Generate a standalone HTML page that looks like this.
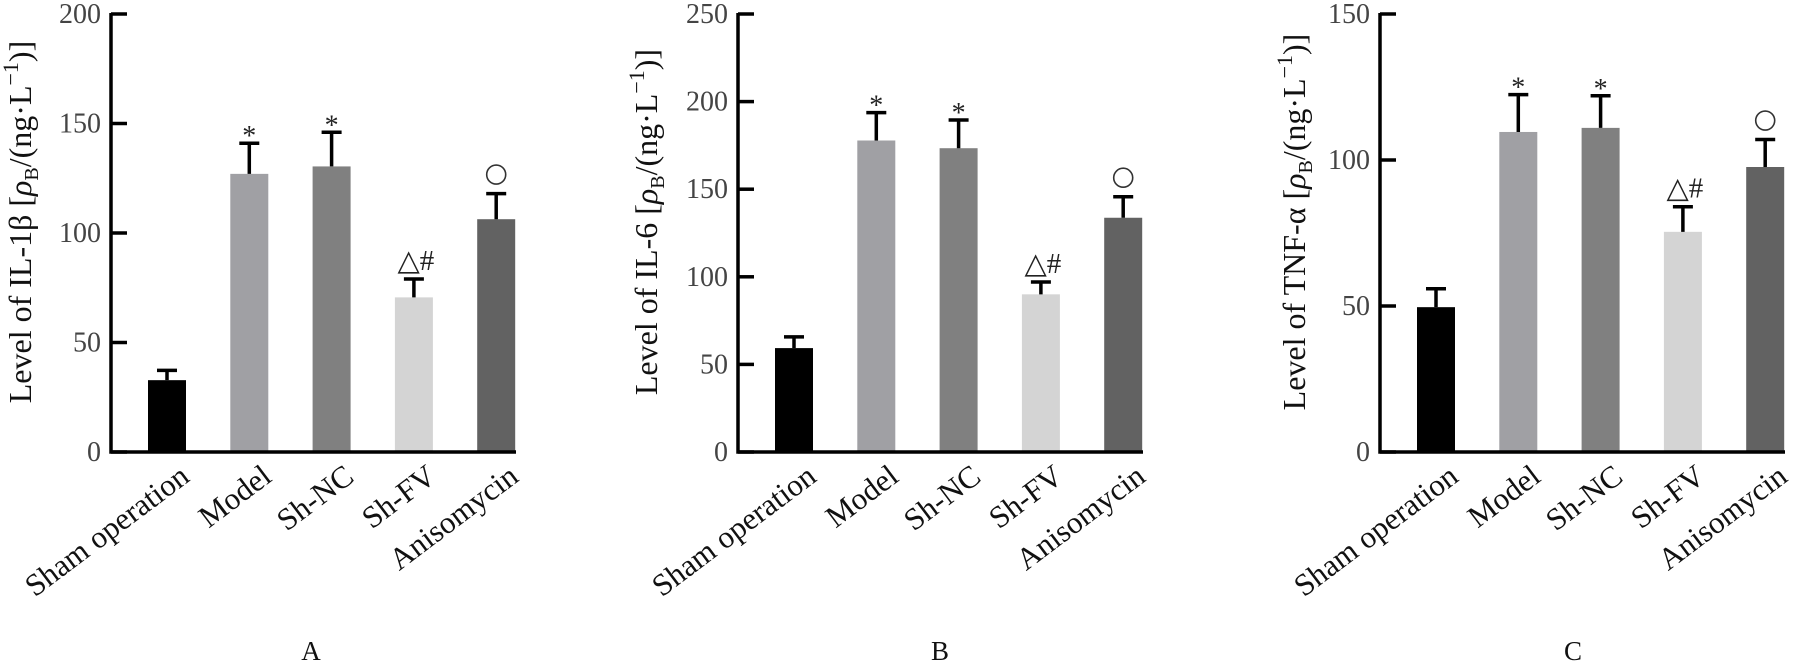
<!DOCTYPE html>
<html><head><meta charset="utf-8"><style>
html,body{margin:0;padding:0;background:#fff;}
svg{display:block;}
text{font-family:"Liberation Serif","DejaVu Serif",serif;}
</style></head><body>
<svg id="fig" width="1809" height="669" viewBox="0 0 1809 669"></svg>
<script>
const categories = ["Sham operation","Model","Sh-NC","Sh-FV","Anisomycin"];
const valuesA = [32.8,127,130.4,70.6,106.3];
const errorsA = [4.5,14,15.6,8.4,11.7];
const valuesB = [59.3,177.8,173.4,90,133.7];
const errorsB = [6.4,15.9,16.1,7,12];
const valuesC = [49.6,109.6,111,75.4,97.6];
const errorsC = [6.3,12.8,11,8.6,9.4];
const marks = ["","*","*","△#","○"];
const ticksA = [0,50,100,150,200];
const ticksB = [0,50,100,150,200,250];
const ticksC = [0,50,100,150];
const colors = ["#000000","#a0a0a4","#808080","#d4d4d4","#626262"];

const NS="http://www.w3.org/2000/svg";
const svg=document.getElementById('fig');
function mk(tag,attrs,parent){const e=document.createElementNS(NS,tag);for(const k in attrs)e.setAttribute(k,attrs[k]);(parent||svg).appendChild(e);return e;}

function panel(key,axisX,ymax,vals,errs,ticks,title,titleX,letter,letterX){
  const g=mk('g',{});
  
  
  const y0=452,yTop=14,len=405;
  const yS=v=>y0-(v/ymax)*(y0-yTop);
  const xC=i=>axisX+56+i*82.3;
  vals.forEach((v,i)=>{
    const r=mk('rect',{x:xC(i)-19,y:yS(v),width:38,height:y0-yS(v),fill:colors[i]},g);
    
    
    const top=yS(v+errs[i]);
    const eb=mk('path',{d:`M${xC(i)} ${yS(v)} V${top} M${xC(i)-10} ${top} H${xC(i)+10}`,stroke:'#000','stroke-width':3.5,fill:'none'},g);
    
    
    const m=marks[i];
    if(m==='○'){
      const c=mk('circle',{cx:xC(i),cy:top-19,r:9.5,fill:'none',stroke:'#333','stroke-width':1.6},g);
      
      
    } else if(m){
      const fs=m==='*'?28:29;
      const t=mk('text',{x:xC(i)+(m==='*'?0:2),y:top-(m==='*'?-2:9),'text-anchor':'middle','font-size':fs,fill:'#222'},g);
      t.textContent=m;
      
      
    }
    const ax_=xC(i)+24, ay_=480;
    const lb=mk('text',{x:ax_,y:ay_,'text-anchor':'end','font-size':31,fill:'#111',transform:`rotate(-37 ${ax_} ${ay_})`},g);
    lb.textContent=categories[i];
    
    
  });
  const ax=mk('path',{d:`M${axisX} ${yTop-1} V${y0} H${axisX+len}`,stroke:'#000','stroke-width':3.5,fill:'none'},g);
  
  
  ticks.forEach(t=>{
    const tk=mk('line',{x1:axisX,x2:axisX+16,y1:yS(t),y2:yS(t),stroke:'#000','stroke-width':3.5},g);
    
    
    const tl=mk('text',{x:axisX-10,y:yS(t)+9,'text-anchor':'end','font-size':28,fill:'#444'},g);
    tl.textContent=t;
    
    
  });
  const ty=222;
  const yt=mk('text',{x:titleX,y:ty,'text-anchor':'middle','font-size':32,fill:'#111',transform:`rotate(-90 ${titleX} ${ty})`},g);
  yt.innerHTML=title+' [<tspan font-style="italic">ρ</tspan><tspan font-size="20" dy="7">B</tspan><tspan dy="-7">/(ng·L</tspan><tspan font-size="22" dy="-13">−1</tspan><tspan dy="13">)]</tspan>';
  
  
  const pl=mk('text',{x:letterX,y:660,'text-anchor':'middle','font-size':27,fill:'#111'},g);
  pl.textContent=letter;
  
  
}
panel('a',111,200,valuesA,errorsA,ticksA,'Level of IL-1β',31,'A',311);
panel('b',738,250,valuesB,errorsB,ticksB,'Level of IL-6',657,'B',940);
panel('c',1380,150,valuesC,errorsC,ticksC,'Level of TNF-α',1305,'C',1573);
</script>
</body></html>
